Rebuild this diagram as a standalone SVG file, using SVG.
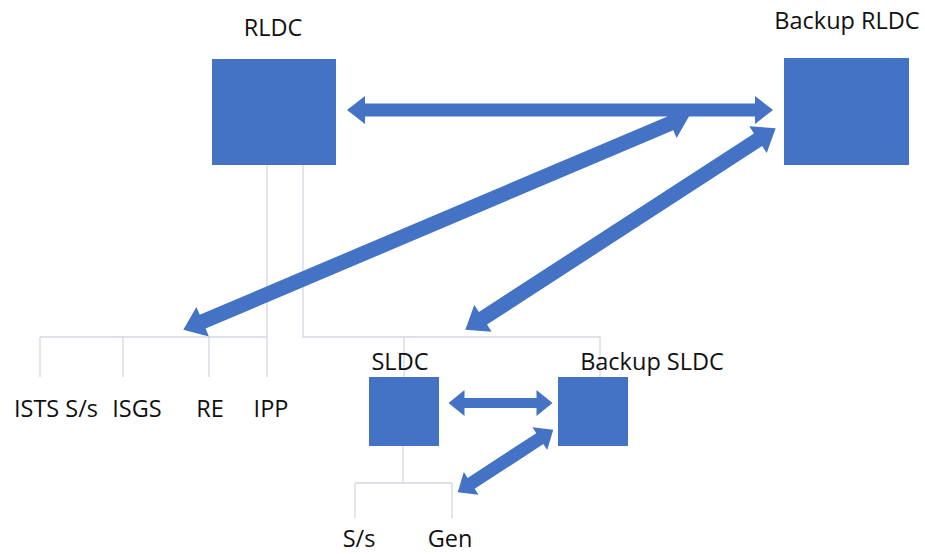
<svg xmlns="http://www.w3.org/2000/svg" width="925" height="554" viewBox="0 0 925 554">
<style>
.box{fill:#4472C4;}
.arr{fill:#4472C4;}
.ln{stroke:#D3D8E2;stroke-width:1.3;fill:none;}
.t{font-family:"Open Sans","Liberation Sans",sans-serif;font-size:23.5px;fill:#111111;}
</style>
<rect width="925" height="554" fill="#ffffff"/>
<g id="tree-lines">
<path class="ln" d="M267 165 V377 M303 165 V337 H600 V377 M404 337 V377 M40 337 H267 M40 337 V377 M123 337 V377 M209 337 V377"/>
<path class="ln" d="M403 446 V483 M355 483 H452 M355 483 V518 M452 483 V518"/>
</g>
<g id="rldc"><rect class="box" x="212" y="59" width="124" height="106"/><text class="t" x="273" y="36" text-anchor="middle">RLDC</text></g>
<g id="backup-rldc"><rect class="box" x="784" y="58" width="125" height="107"/><text class="t" x="847" y="29" text-anchor="middle">Backup RLDC</text></g>
<g id="sldc"><rect class="box" x="369" y="377" width="70" height="69"/><text class="t" x="400" y="370" text-anchor="middle">SLDC</text></g>
<g id="backup-sldc"><rect class="box" x="558" y="377" width="70" height="69"/><text class="t" x="652" y="370" text-anchor="middle">Backup SLDC</text></g>
<g id="ists"><text class="t" x="56" y="417" text-anchor="middle">ISTS S/s</text></g>
<g id="isgs"><text class="t" x="137" y="417" text-anchor="middle">ISGS</text></g>
<g id="re"><text class="t" x="210" y="417" text-anchor="middle">RE</text></g>
<g id="ipp"><text class="t" x="271" y="417" text-anchor="middle">IPP</text></g>
<g id="ss"><text class="t" x="359" y="547" text-anchor="middle">S/s</text></g>
<g id="gen"><text class="t" x="450" y="547" text-anchor="middle">Gen</text></g>
<g id="connectors">
<polygon class="arr" transform="translate(560,110)" points="-213,0 -195,-14 -195,-6.5 195,-6.5 195,-14 213,0 195,14 195,6.5 -195,6.5 -195,14"/>
<polygon class="arr" transform="translate(436.5,222.5) rotate(-22.98)" points="-275,0 -254,-16 -254,-7.5 254,-7.5 254,-16 275,0 254,16 254,7.5 -254,7.5 -254,16"/>
<polygon class="arr" transform="translate(620.5,229) rotate(-33)" points="-185,0 -164,-16 -164,-7.5 164,-7.5 164,-16 185,0 164,16 164,7.5 -164,7.5 -164,16"/>
<polygon class="arr" transform="translate(500.5,403)" points="-52,0 -36,-13 -36,-5 36,-5 36,-13 52,0 36,13 36,5 -36,5 -36,13"/>
<polygon class="arr" transform="translate(505.5,461) rotate(-33.1)" points="-57,0 -41,-13.5 -41,-6.5 41,-6.5 41,-13.5 57,0 41,13.5 41,6.5 -41,6.5 -41,13.5"/>
</g>
</svg>
